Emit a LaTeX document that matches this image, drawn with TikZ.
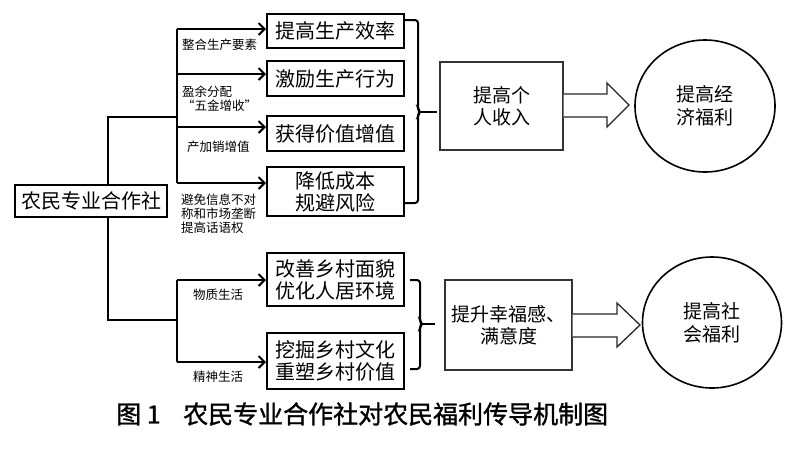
\documentclass[tikz,border=0pt]{standalone}
\usepackage{fontspec}
\newfontfamily\cjk{Noto Sans CJK SC}
\newfontfamily\cjkb[FakeBold=1.2]{Noto Sans CJK SC}
\usetikzlibrary{arrows.meta,shapes.geometric}
\begin{document}
\begin{tikzpicture}[x=1pt,y=-1pt,
  mainbox/.style={draw,line width=2pt,font=\cjk\fontsize{20}{22}\selectfont,align=center,inner sep=0pt,minimum width=137pt},
  midbox/.style={draw=black!80,line width=1.3pt,font=\cjk\fontsize{19}{22}\selectfont,align=center,inner sep=0pt},
  goal/.style={draw,ellipse,line width=1.6pt,font=\cjk\fontsize{19}{23}\selectfont,align=center,inner sep=0pt},
  lab/.style={font=\cjk\fontsize{12.5}{14}\selectfont,align=left,anchor=west,inner sep=0pt},
  conn/.style={line width=2pt},
  arr/.style={line width=2pt,-{Straight Barb[length=6pt,width=12pt,line width=2pt]}},
  brk/.style={line width=2pt,rounded corners=3pt},
  blk/.style={draw=black!85,line width=1.3pt,fill=white,line join=miter}]
\useasboundingbox (0,0) rectangle (800,456);

% nodes
\node[mainbox,minimum height=34pt] (b1) at (335.5,31) {提高生产效率};
\node[mainbox,minimum height=35pt] (b2) at (335.5,78.5) {激励生产行为};
\node[mainbox,minimum height=35pt] (b3) at (335.5,133.5) {获得价值增值};
\node[mainbox,minimum height=49pt] (b4) at (335.5,191.5) {降低成本\\规避风险};
\node[mainbox,minimum height=53pt] (b5) at (335.5,279.5) {改善乡村面貌\\优化人居环境};
\node[mainbox,minimum height=56pt] (b6) at (335.5,361) {挖掘乡村文化\\重塑乡村价值};
\node[mainbox,minimum width=152pt,minimum height=32pt] (coop) at (91,201) {农民专业合作社};

\node[midbox,minimum width=123pt,minimum height=88pt] (inc) at (501.5,106) {提高个\\人收入};
\node[midbox,minimum width=127pt,minimum height=90pt] (hap) at (508.5,325) {提升幸福感、\\满意度};

\node[goal,minimum width=140pt,minimum height=132pt] (c1) at (705,106) {提高经\\济福利};
\node[goal,minimum width=139pt,minimum height=131pt] (c2) at (712,322.5) {提高社\\会福利};

% tree connectors
\coordinate (ju) at (177,117);
\coordinate (jl) at (177,320);
\coordinate (t1) at (177,29);
\coordinate (t4) at (177,183);
\coordinate (t5) at (177,280);
\coordinate (t6) at (177,362);
\draw[conn] (coop.north -| 108,0) |- (ju);
\draw[conn] (coop.south -| 108,0) |- (jl);
\draw[conn] (t1) -- (t4);
\draw[conn] (t5) -- (t6);
\draw[arr] (t1) -- (t1 -| b1.west);
\draw[arr] (177,74) -- (177,74 -| b2.west);
\draw[arr] (177,127) -- (177,127 -| b3.west);
\draw[arr] (t4) -- (t4 -| b4.west);
\draw[arr] (t5) -- (t5 -| b5.west);
\draw[arr] (t6) -- (t6 -| b6.west);

% labels
\node[lab] (l1) at (182,45) {整合生产要素};
\node[lab] (l2) at (182,98.5) {盈余分配\\“五金增收”};
\node[lab] (l3) at (187,147) {产加销增值};
\node[lab] (l4) at (181,213.5) {避免信息不对\\称和市场垄断\\提高话语权};
\node[lab] (l5) at (193,295) {物质生活};
\node[lab] (l6) at (193,377) {精神生活};

% brackets
\coordinate (k1) at (437,112);
\coordinate (k2) at (435,324);
\draw[brk] (b1.east |- 0,20) -- (418,20) -- (418,109) -- (420,112) -- (418,115) -- (418,203) -- (b4.east |- 0,203);
\draw[conn] (419,112) -- (k1);
\draw[brk] (410,280) -- (420,280) -- (420,321) -- (422,324) -- (420,327) -- (420,369) -- (410,369);
\draw[conn] (421,324) -- (k2);

% block arrows
\draw[blk] (inc.east |- 0,94) -- (607,94) -- (607,83) -- (629,105) -- (607,127) -- (607,117) -- (inc.east |- 0,117);
\draw[blk] (hap.east |- 0,314) -- (617,314) -- (617,303) -- (640,325) -- (617,347) -- (617,337) -- (hap.east |- 0,337);

% caption
\node[font=\cjkb\fontsize{25}{25}\selectfont,anchor=west,inner sep=0pt] (cap) at (116,414) {图 1\hspace{0.9em}农民专业合作社对农民福利传导机制图};
\end{tikzpicture}
\end{document}
